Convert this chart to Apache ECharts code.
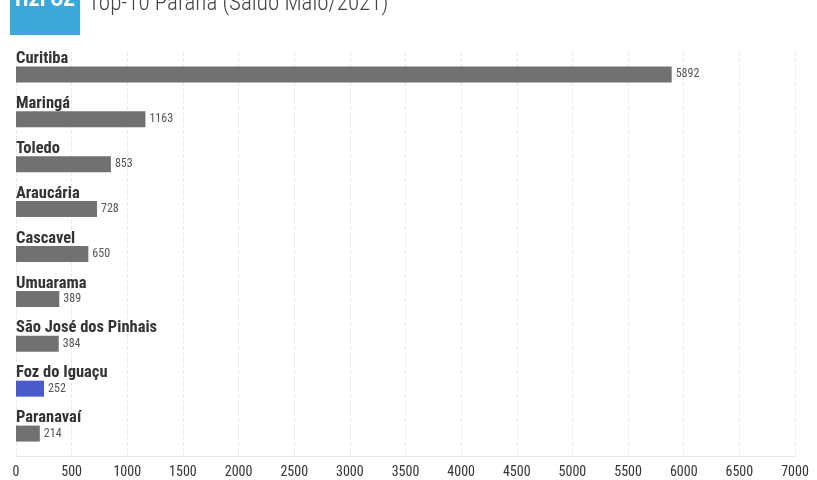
<!DOCTYPE html>
<html><head><meta charset="utf-8">
<script src="https://cdn.jsdelivr.net/npm/echarts@6/dist/echarts.min.js"></script>
<style>html,body{margin:0;padding:0;background:#fff}#c{width:817px;height:480px}</style>
</head><body><div id="c"></div>
<script>
const categories = ['Curitiba','Maringá','Toledo','Araucária','Cascavel','Umuarama','São José dos Pinhais','Foz do Iguaçu','Paranavaí'];
const values = [5892,1163,853,728,650,389,384,252,214];
const highlight = 'Foz do Iguaçu';
const titleText = 'Top-10 Paraná (Saldo Maio/2021)';
const logoText = 'H2FOZ';

const chart = echarts.init(document.getElementById('c'), null, {renderer:'canvas'});
const FONT = "'Roboto Condensed', Roboto, sans-serif";
chart.setOption({
  animation:false,
  backgroundColor:'#fff',
  graphic:[
    {type:'rect', shape:{x:10,y:0,width:70,height:35}, style:{fill:'#3aa9d9'}},
    {type:'text', style:{x:45,y:-11,text:logoText,fill:'#fff',font:"bold 22px "+FONT,textAlign:'center'}},
    {type:'text', style:{x:88,y:-7,text:titleText,fill:'#444',font:"300 23px "+FONT}}
  ],
  grid:{left:16,right:22,top:52,bottom:24,containLabel:false},
  xAxis:{type:'value',min:0,max:7000,interval:500,
    axisLine:{show:true,lineStyle:{color:'#e6e6e6'}},
    axisTick:{show:false},
    axisLabel:{color:'#333',fontSize:14,fontFamily:FONT,margin:9,formatter:v=>String(v)},
    splitLine:{show:true,lineStyle:{color:'#e8e8e8',type:'dashed'}}},
  yAxis:{type:'category',data:categories,inverse:true,
    axisLine:{show:false},axisTick:{show:false},splitLine:{show:false},
    axisLabel:{inside:true,margin:0,align:'left',verticalAlign:'bottom',padding:[0,0,7,0],
      color:'#333',fontSize:16.5,fontWeight:'bold',fontFamily:FONT}},
  series:[{type:'bar',barWidth:16,
    data:values.map((v,i)=>({value:v,itemStyle:{color:categories[i]===highlight?'#4a5ccc':'#717171'}})),
    label:{show:true,position:'right',distance:4,color:'#555',fontSize:12,fontFamily:FONT}}]
});
</script></body></html>
